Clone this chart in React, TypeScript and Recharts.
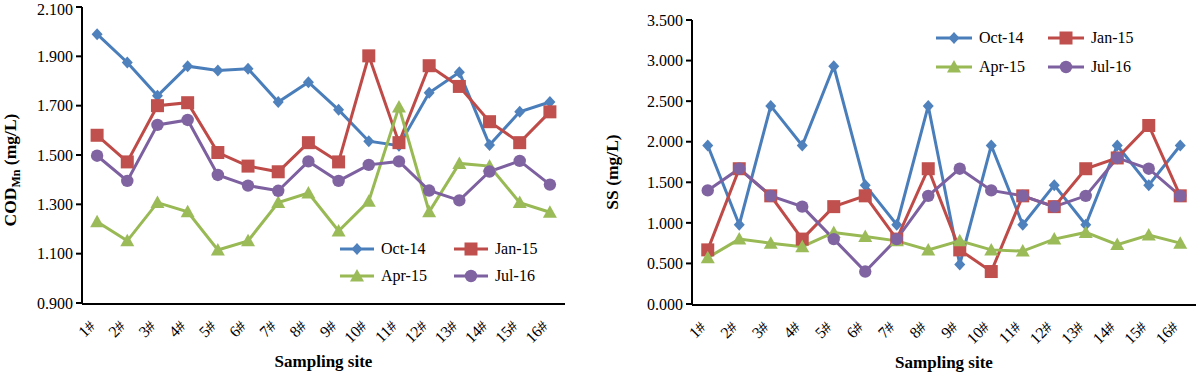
import { LineChart, Line, XAxis, YAxis } from "recharts";

const FONT = "'Liberation Serif', 'Times New Roman', serif";

const sites = ["1#", "2#", "3#", "4#", "5#", "6#", "7#", "8#", "9#", "10#", "11#", "12#", "13#", "14#", "15#", "16#"];
const seriesNames = ["Oct-14", "Jan-15", "Apr-15", "Jul-16"];
const lineColors = ["#4A7EBB", "#BE4B48", "#98B954", "#7D60A0"];
const markColors = ["#4F81BD", "#C0504D", "#9BBB59", "#8064A2"];
const markKinds = ["diamond", "square", "triangle", "circle"];

// COD_Mn (mg/L)
const codOct14 = [1.99, 1.875, 1.74, 1.86, 1.843, 1.85, 1.715, 1.795, 1.683, 1.556, 1.538, 1.752, 1.835, 1.541, 1.675, 1.715];
const codJan15 = [1.58, 1.472, 1.7, 1.712, 1.51, 1.455, 1.432, 1.55, 1.472, 1.902, 1.55, 1.862, 1.778, 1.635, 1.55, 1.675];
const codApr15 = [1.229, 1.152, 1.307, 1.27, 1.115, 1.152, 1.307, 1.346, 1.192, 1.313, 1.695, 1.27, 1.466, 1.455, 1.307, 1.268];
const codJul16 = [1.497, 1.395, 1.622, 1.642, 1.419, 1.376, 1.355, 1.474, 1.395, 1.46, 1.474, 1.356, 1.316, 1.433, 1.476, 1.38];

// SS (mg/L)
const ssOct14 = [1.953, 0.977, 2.441, 1.953, 2.93, 1.465, 0.977, 2.441, 0.488, 1.953, 0.977, 1.465, 0.977, 1.953, 1.465, 1.953];
const ssJan15 = [0.667, 1.667, 1.333, 0.8, 1.2, 1.333, 0.8, 1.667, 0.667, 0.4, 1.333, 1.2, 1.667, 1.8, 2.2, 1.333];
const ssApr15 = [0.571, 0.8, 0.75, 0.706, 0.882, 0.833, 0.778, 0.667, 0.778, 0.667, 0.652, 0.8, 0.882, 0.732, 0.849, 0.75];
const ssJul16 = [1.4, 1.667, 1.333, 1.2, 0.8, 0.4, 0.8, 1.333, 1.667, 1.4, 1.333, 1.2, 1.333, 1.8, 1.667, 1.333];

const codTicks = [0.9, 1.1, 1.3, 1.5, 1.7, 1.9, 2.1];
const ssTicks = [0, 0.5, 1, 1.5, 2, 2.5, 3, 3.5];

const keys = ["s0", "s1", "s2", "s3"];
const build = (series: number[][]) =>
  sites.map((site, i) => {
    const row: any = { pos: i + 0.5, site };
    series.forEach((s, k) => (row[keys[k]] = s[i]));
    return row;
  });

const codData = build([codOct14, codJan15, codApr15, codJul16]);
const ssData = build([ssOct14, ssJan15, ssApr15, ssJul16]);

const boundaries = sites.map((_, i) => i).concat(sites.length);
const centers = sites.map((_, i) => i + 0.5);

const Marker = ({ kind, cx, cy, color }: { kind: string; cx: number; cy: number; color: string }) => {
  if (kind === "diamond")
    return <path d={`M${cx},${cy - 6}L${cx + 5.5},${cy}L${cx},${cy + 6}L${cx - 5.5},${cy}Z`} fill={color} />;
  if (kind === "square") return <rect x={cx - 6.5} y={cy - 6.5} width={13} height={13} fill={color} />;
  if (kind === "triangle")
    return <path d={`M${cx},${cy - 7}L${cx + 7},${cy + 5.5}L${cx - 7},${cy + 5.5}Z`} fill={color} />;
  return <circle cx={cx} cy={cy} r={6.2} fill={color} />;
};

const SiteTick = (props: any) => {
  const { x, y, payload } = props;
  const ax = x - 1;
  const ay = y + 24;
  return (
    <text
      x={ax}
      y={ay}
      transform={`rotate(-45 ${ax} ${ay})`}
      textAnchor="end"
      fontSize={16}
      fontFamily={FONT}
      fill="#000"
    >
      {sites[Math.floor(payload.value)]}
    </text>
  );
};

const XTitle = (props: any) => {
  const vb = props.viewBox;
  return (
    <text x={vb.x + vb.width / 2} y={vb.y + 63} textAnchor="middle" fontSize={17} fontWeight="bold" fontFamily={FONT} fill="#000">
      Sampling site
    </text>
  );
};

const YTitle = (props: any) => {
  const { viewBox, dx, sub, shift } = props;
  const x = viewBox.x + dx;
  const y = viewBox.y + viewBox.height / 2 + shift;
  return (
    <text x={x} y={y} transform={`rotate(-90 ${x} ${y})`} textAnchor="middle" fontSize={17.5} fontWeight="bold" fontFamily={FONT} fill="#000">
      {sub ? (
        <>
          COD<tspan fontSize={12} dy={4}>Mn</tspan>
          <tspan dy={-4}> (mg/L)</tspan>
        </>
      ) : (
        "SS (mg/L)"
      )}
    </text>
  );
};

const LegendBox = ({ left, top, colGap, rowGap, lineLen }: any) => (
  <div
    style={{
      position: "absolute",
      left,
      top,
      display: "grid",
      gridTemplateColumns: "auto auto",
      columnGap: colGap,
      rowGap,
      fontFamily: FONT,
      fontSize: 16,
      lineHeight: "18px",
    }}
  >
    {seriesNames.map((name, k) => (
      <div key={name} style={{ display: "flex", alignItems: "center" }}>
        <svg width={lineLen} height={16} style={{ marginRight: 7 }}>
          <line x1={0} y1={8} x2={lineLen} y2={8} stroke={lineColors[k]} strokeWidth={3} />
          <Marker kind={markKinds[k]} cx={lineLen / 2} cy={8} color={markColors[k]} />
        </svg>
        <span>{name}</span>
      </div>
    ))}
  </div>
);

const axisStroke = { stroke: "#000", strokeWidth: 2 };

const Panel = ({ data, width, yWidth, margin, domain, ticks, sub, titleDx, titleShift }: any) => (
  <LineChart width={width} height={377} data={data} margin={margin}>
    <XAxis
      xAxisId="lbl"
      type="number"
      dataKey="pos"
      domain={[0, sites.length]}
      ticks={centers}
      interval={0}
      tick={<SiteTick />}
      tickSize={0}
      tickMargin={0}
      axisLine={false}
      tickLine={false}
      height={1}
      allowDataOverflow
    />
    <XAxis
      xAxisId="marks"
      type="number"
      dataKey="pos"
      domain={[0, sites.length]}
      ticks={boundaries}
      interval={0}
      tick={false}
      height={72}
      axisLine={axisStroke}
      tickLine={axisStroke}
      tickSize={7}
      label={<XTitle />}
      allowDataOverflow
    />
    <YAxis
      type="number"
      domain={domain}
      ticks={ticks}
      width={yWidth}
      allowDataOverflow
      tickFormatter={(v: number) => v.toFixed(3)}
      tick={{ fontSize: 16, fontFamily: FONT, fill: "#000" }}
      axisLine={axisStroke}
      tickLine={axisStroke}
      tickSize={6}
      tickMargin={3}
      label={<YTitle dx={titleDx} sub={sub} shift={titleShift} />}
    />
    {keys.map((key, k) => (
      <Line
        key={key}
        xAxisId="marks"
        dataKey={key}
        name={seriesNames[k]}
        type="linear"
        stroke={lineColors[k]}
        strokeWidth={3}
        isAnimationActive={false}
        activeDot={false}
        dot={(p: any) => <Marker key={`${key}-${p.index}`} kind={markKinds[k]} cx={p.cx} cy={p.cy} color={markColors[k]} />}
      />
    ))}
  </LineChart>
);

export default function App() {
  return (
    <div style={{ position: "absolute", left: 0, top: 0, width: 1200, height: 377, background: "#fff" }}>
      <div style={{ position: "absolute", left: 0, top: 0 }}>
        <Panel
          data={codData}
          width={590}
          yWidth={82}
          margin={{ top: 7, right: 25, bottom: 1, left: 0 }}
          domain={[0.9, 2.1]}
          ticks={codTicks}
          sub
          titleDx={16}
          titleShift={15}
        />
      </div>
      <div style={{ position: "absolute", left: 600, top: 0 }}>
        <Panel
          data={ssData}
          width={600}
          yWidth={92}
          margin={{ top: 20, right: 4, bottom: 0, left: 0 }}
          domain={[0, 3.5]}
          ticks={ssTicks}
          sub={false}
          titleDx={18}
          titleShift={10}
        />
      </div>
      <LegendBox left={340} top={240} colGap={27} rowGap={9} lineLen={34} />
      <LegendBox left={936} top={29} colGap={23} rowGap={11} lineLen={36} />
    </div>
  );
}
